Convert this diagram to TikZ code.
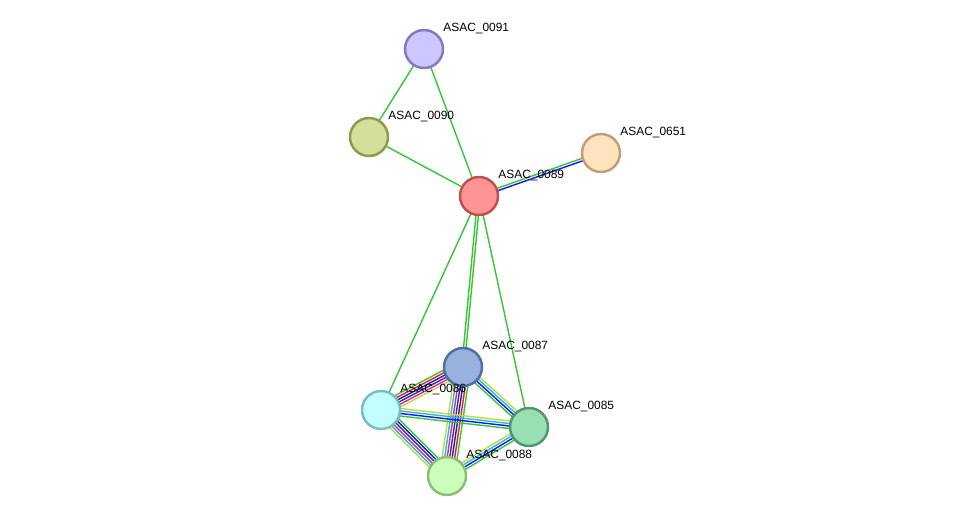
\documentclass[tikz,border=0pt]{standalone}
\usepackage{fontspec}
\setmainfont{Liberation Sans}
\usetikzlibrary{calc,backgrounds}

\definecolor{egreen}{RGB}{51,200,51}
\definecolor{ered}{RGB}{255,20,20}
\definecolor{eblue}{RGB}{20,20,255}
\definecolor{eblack}{RGB}{60,60,60}
\definecolor{emag}{RGB}{210,30,210}
\definecolor{ecyan}{RGB}{30,190,230}
\definecolor{eyel}{RGB}{195,215,60}

% one STRING link: a bundle of parallel coloured lines
\newcommand{\strlink}[3]{%
  \xdef\nlines{0}%
  \foreach \lc in {#3}{\xdef\nlines{\the\numexpr\nlines+1\relax}}%
  \foreach \lc [count=\li] in {#3}{%
    \pgfmathsetmacro{\off}{(\li-(\nlines+1)/2)*0.05}%
    \draw[link, draw=\lc] ($(#1.center)!\off cm!90:(#2.center)$) --
      ($(#2.center)!\off cm!-90:(#1.center)$);
  }}

\begin{document}
\begin{tikzpicture}[x=0.02cm, y=-0.02cm,
  prot/.style={circle, draw, line width=1.4pt, minimum size=0.76cm, inner sep=0pt},
  link/.style={line width=0.8pt},
  lbl/.style={anchor=west, inner sep=0pt,
    font=\fontsize{6.8}{8}\selectfont}]

  \useasboundingbox (0,0) rectangle (976,522);

  % proteins
  \node[prot, fill={rgb,255:red,204;green,199;blue,255}, draw={rgb,255:red,133;green,120;blue,194}] (n0091) at (424,49) {};
  \node[prot, fill={rgb,255:red,212;green,224;blue,154}, draw={rgb,255:red,140;green,155;blue,80}] (n0090) at (369,137) {};
  \node[prot, fill={rgb,255:red,255;green,148;blue,148}, draw={rgb,255:red,190;green,80;blue,80}] (n0089) at (479,196) {};
  \node[prot, fill={rgb,255:red,255;green,227;blue,191}, draw={rgb,255:red,190;green,160;blue,120}] (n0651) at (601,153) {};
  \node[prot, fill={rgb,255:red,152;green,178;blue,222}, draw={rgb,255:red,80;green,110;blue,160}] (n0087) at (463,367) {};
  \node[prot, fill={rgb,255:red,196;green,255;blue,255}, draw={rgb,255:red,120;green,190;blue,190}] (n0086) at (381,410) {};
  \node[prot, fill={rgb,255:red,154;green,222;blue,180}, draw={rgb,255:red,80;green,150;blue,110}] (n0085) at (529,427) {};
  \node[prot, fill={rgb,255:red,204;green,255;blue,187}, draw={rgb,255:red,140;green,190;blue,120}] (n0088) at (447,476) {};

  % labels, up and right of each protein
  \foreach \p in {0091,0090,0089,0651,0087,0086,0085,0088}
    \node[lbl] (t\p) at ($(n\p.center)+(19,-20)$) {ASAC\_\p};

  % links
  \begin{scope}[on background layer]
    \strlink{n0091}{n0090}{egreen}
    \strlink{n0091}{n0089}{egreen}
    \strlink{n0090}{n0089}{egreen}
    \strlink{n0089}{n0651}{eblue,egreen}
    \strlink{n0089}{n0087}{egreen,egreen}
    \strlink{n0089}{n0086}{egreen}
    \strlink{n0089}{n0085}{egreen}
    \strlink{n0086}{n0087}{eyel,emag,eblack,eblue,ered,egreen}
    \strlink{n0088}{n0087}{egreen,ered,eblue,eblack,emag,ecyan,eyel}
    \strlink{n0086}{n0088}{eyel,ecyan,emag,eblack,eblue,egreen}
    \strlink{n0087}{n0085}{egreen,eblue,ecyan,eyel}
    \strlink{n0086}{n0085}{egreen,eblue,ecyan,eyel}
    \strlink{n0088}{n0085}{egreen,eblue,ecyan,eyel}
  \end{scope}

\end{tikzpicture}
\end{document}
